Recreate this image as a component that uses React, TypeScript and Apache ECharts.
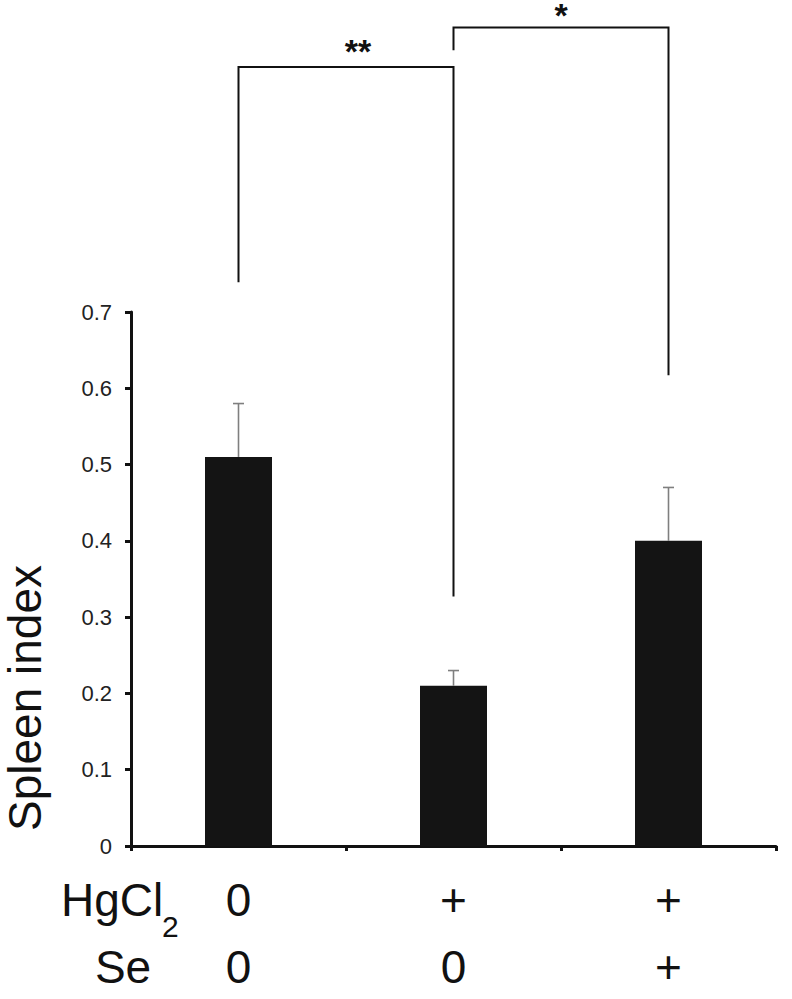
import React, { useEffect, useRef } from "react";
import * as echarts from "echarts";

// ---- data ----
const categories = ["Control", "HgCl2", "HgCl2 + Se"];
const hgcl2Row = ["0", "+", "+"];
const seRow = ["0", "0", "+"];
const spleenIndex = [0.51, 0.21, 0.4];
const errorUpper = [0.58, 0.23, 0.47];
const yMin = 0;
const yMax = 0.7;
const yInterval = 0.1;
// significance brackets: [fromIndex, toIndex, topValue, leftLegEnd, rightLegEnd]
const bracketSpans = [
  [0, 1, 1.021, 0.739, 0.327],
  [1, 2, 1.073, 1.043, 0.617],
];
const bracketLabels = ["**", "*"];

// ---- styles ----
const FONT = "'Liberation Sans', Arial, Helvetica, sans-serif";
const INK = "#111111";
const labelDx = [12, 0];
const labelDy = [-16, -12];

export default function App() {
  const ref = useRef<HTMLDivElement>(null);

  useEffect(() => {
    if (!ref.current) return;
    const chart = echarts.init(ref.current, null, { renderer: "svg" });

    const option: any = {
      animation: false,
      backgroundColor: "#ffffff",
      grid: { left: 131, right: 16, top: 312, bottom: 153, containLabel: false },
      xAxis: {
        type: "category",
        data: categories,
        boundaryGap: true,
        axisLine: { show: true, lineStyle: { color: INK, width: 3 } },
        axisTick: { show: true, length: 5, lineStyle: { color: INK, width: 3 } },
        axisLabel: {
          margin: 20,
          interval: 0,
          formatter: (_v: string, i: number) =>
            `{a|${hgcl2Row[i]}}\n{a|${seRow[i]}}`,
          rich: {
            a: { fontSize: 46, lineHeight: 67, fontFamily: FONT, color: INK },
          },
        },
        splitLine: { show: false },
      },
      yAxis: {
        type: "value",
        min: yMin,
        max: yMax,
        interval: yInterval,
        axisLine: { show: true, lineStyle: { color: INK, width: 3 } },
        axisTick: { show: true, length: 6, lineStyle: { color: INK, width: 3 } },
        axisLabel: {
          margin: 19,
          fontSize: 22,
          fontFamily: FONT,
          color: "#222222",
          formatter: (v: number) => (v === 0 ? "0" : v.toFixed(1)),
        },
        splitLine: { show: false },
      },
      graphic: [
        {
          type: "text",
          x: 25,
          y: 698,
          rotation: Math.PI / 2,
          style: {
            text: "Spleen index",
            font: `46px ${FONT}`,
            fill: INK,
            align: "center",
            verticalAlign: "middle",
            lineHeight: 46,
          },
        },
        {
          type: "text",
          x: 61,
          y: 900,
          style: {
            text: "HgCl",
            font: `46px ${FONT}`,
            fill: INK,
            align: "left",
            verticalAlign: "middle",
          },
        },
        {
          type: "text",
          x: 162,
          y: 926,
          style: {
            text: "2",
            font: `30px ${FONT}`,
            fill: INK,
            align: "left",
            verticalAlign: "middle",
          },
        },
        {
          type: "text",
          x: 123,
          y: 967,
          style: {
            text: "Se",
            font: `46px ${FONT}`,
            fill: INK,
            align: "center",
            verticalAlign: "middle",
          },
        },
      ],
      series: [
        {
          type: "bar",
          data: spleenIndex,
          barWidth: 67,
          itemStyle: { color: "#141414" },
          z: 2,
        },
        {
          type: "custom",
          z: 3,
          data: spleenIndex.map((v, i) => [i, v, errorUpper[i]]),
          encode: { x: 0, y: [1, 2] },
          renderItem: (params: any, api: any) => {
            const i = api.value(0);
            const p0 = api.coord([i, api.value(1)]);
            const p1 = api.coord([i, api.value(2)]);
            const half = 5.5;
            const st = { stroke: "#7f7f7f", lineWidth: 1.6 };
            return {
              type: "group",
              children: [
                { type: "line", shape: { x1: p0[0], y1: p0[1], x2: p1[0], y2: p1[1] }, style: st },
                { type: "line", shape: { x1: p1[0] - half, y1: p1[1], x2: p1[0] + half, y2: p1[1] }, style: st },
              ],
            };
          },
        },
        {
          type: "custom",
          z: 4,
          clip: false,
          data: bracketSpans,
          encode: { x: [0, 1], y: [2, 3, 4] },
          renderItem: (params: any, api: any) => {
            const idx = params.dataIndex;
            const a = api.value(0);
            const b = api.value(1);
            const top = api.value(2);
            const lTop = api.coord([a, top]);
            const lBot = api.coord([a, api.value(3)]);
            const rTop = api.coord([b, top]);
            const rBot = api.coord([b, api.value(4)]);
            const st = { stroke: INK, lineWidth: 2, fill: "none" };
            return {
              type: "group",
              children: [
                {
                  type: "polyline",
                  shape: {
                    points: [
                      [lBot[0], lBot[1]],
                      [lTop[0], lTop[1]],
                      [rTop[0], rTop[1]],
                      [rBot[0], rBot[1]],
                    ],
                  },
                  style: st,
                },
                {
                  type: "text",
                  x: (lTop[0] + rTop[0]) / 2 + labelDx[idx],
                  y: lTop[1] + labelDy[idx],
                  style: {
                    text: bracketLabels[idx],
                    font: `bold 34px ${FONT}`,
                    fill: INK,
                    align: "center",
                    verticalAlign: "middle",
                    lineHeight: 20,
                  },
                },
              ],
            };
          },
        },
      ],
    };

    chart.setOption(option);
    return () => chart.dispose();
  }, []);

  return (
    <div
      ref={ref}
      style={{ position: "fixed", left: 0, top: 0, width: 792, height: 999, background: "#fff" }}
    />
  );
}
